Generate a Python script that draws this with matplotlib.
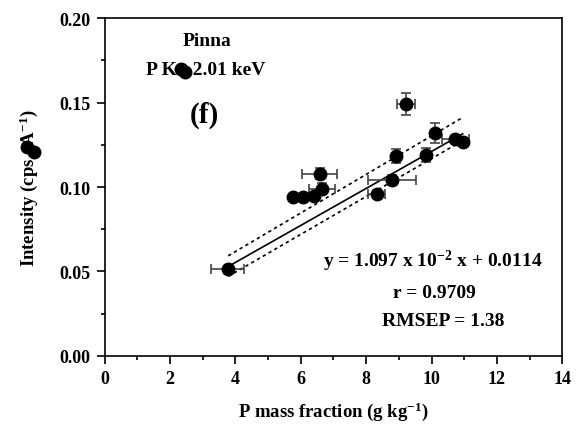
import matplotlib
matplotlib.use("Agg")
import matplotlib.pyplot as plt
from matplotlib.ticker import MultipleLocator

plt.rcParams['font.family'] = ['Liberation Serif', 'DejaVu Serif']
plt.rcParams['font.weight'] = 'bold'
plt.rcParams['mathtext.fontset'] = 'custom'
plt.rcParams['mathtext.rm'] = 'Liberation Serif:bold'
plt.rcParams['mathtext.bf'] = 'Liberation Serif:bold'
plt.rcParams['mathtext.it'] = 'Liberation Serif:bold'
plt.rcParams['mathtext.default'] = 'rm'

# data
x_vals = [3.76, 5.75, 6.08, 6.40, 6.65, 6.58, 8.32, 8.78, 8.91, 9.22, 9.83, 10.09, 10.73, 10.95]
y_vals = [0.0513, 0.0939, 0.0939, 0.0949, 0.0991, 0.1080, 0.0958, 0.1040, 0.1185, 0.1490, 0.1189, 0.1320, 0.1283, 0.1267]
x_err = [0.50, 0.0, 0.0, 0.0, 0.40, 0.53, 0.27, 0.73, 0.0, 0.27, 0.0, 0.0, 0.40, 0.0]
y_err = [0.0, 0.0, 0.0, 0.0, 0.003, 0.003, 0.002, 0.003, 0.004, 0.0066, 0.004, 0.0057, 0.002, 0.0]

fit_x = [3.78, 10.95]
slope = 1.097e-2
intercept = 0.0114
upper_x = [3.78, 10.95]
upper_y = [0.0592, 0.1412]
lower_x = [3.78, 10.95]
lower_y = [0.0470, 0.1275]

stray_x = [2.33, 2.45, -2.37, -2.17]
stray_y = [0.1698, 0.1680, 0.1236, 0.1208]

x_ticks = [0, 2, 4, 6, 8, 10, 12, 14]
y_ticks = [0.00, 0.05, 0.10, 0.15, 0.20]

fig = plt.figure(figsize=(5.84, 4.27), dpi=100)
ax = fig.add_axes([0.179, 0.1646, 0.784, 0.7902])

fit_y = [slope * v + intercept for v in fit_x]
ax.plot(fit_x, fit_y, color='black', lw=1.2, zorder=2)
ax.plot(upper_x, upper_y, color='black', lw=1.2, ls=(0, (2, 2)), zorder=2)
ax.plot(lower_x, lower_y, color='black', lw=1.2, ls=(0, (2, 2)), zorder=2)

ax.errorbar(x_vals, y_vals, xerr=x_err, yerr=y_err,
            fmt='none', ecolor='#444444', elinewidth=1.2, capsize=3.5, capthick=1.2, zorder=3)
ax.plot(x_vals, y_vals, 'o', color='black', ms=9, zorder=4)

ax.plot(stray_x, stray_y, 'o', color='black', ms=9, zorder=5, clip_on=False)

ax.set_xlim(0, 14)
ax.set_ylim(0, 0.20)
ax.set_xticks(x_ticks)
ax.set_yticks(y_ticks)
ax.set_xticklabels([str(v) for v in x_ticks])
ax.set_yticklabels(['%.2f' % v for v in y_ticks])
ax.xaxis.set_minor_locator(MultipleLocator(1))
ax.yaxis.set_minor_locator(MultipleLocator(0.025))
ax.tick_params(which='major', direction='out', length=6, width=1.2, labelsize=13, pad=4)
ax.tick_params(which='minor', direction='out', length=3, width=1.2)
ax.tick_params(top=False, right=False)
for s in ax.spines.values():
    s.set_linewidth(1.2)
for lab in ax.get_xticklabels() + ax.get_yticklabels():
    lab.set_fontweight('bold')

ax.set_xlabel('P mass fraction (g kg$^{-1}$)', fontsize=13.5, fontweight='bold', labelpad=9)
ax.set_ylabel('Intensity (cps   A$^{-1}$)', fontsize=13.5, fontweight='bold', labelpad=14)

ax.text(3.13, 0.1866, 'Pinna', ha='center', va='center', fontsize=14, fontweight='bold', zorder=1)
ax.text(1.28, 0.1694, 'P K\u03b1 2.01 keV', ha='left', va='center', fontsize=14, fontweight='bold', zorder=1)
ax.text(3.06, 0.1431, '(f)', ha='center', va='center', fontsize=21, fontweight='bold')
ax.text(10.03, 0.0563, 'y = 1.097 x 10$^{-2}$ x + 0.0114', ha='center', va='center', fontsize=14, fontweight='bold')
ax.text(10.09, 0.0376, 'r = 0.9709', ha='center', va='center', fontsize=14, fontweight='bold')
ax.text(10.36, 0.0208, 'RMSEP = 1.38', ha='center', va='center', fontsize=14, fontweight='bold')

fig.savefig('out.png', dpi=100)
